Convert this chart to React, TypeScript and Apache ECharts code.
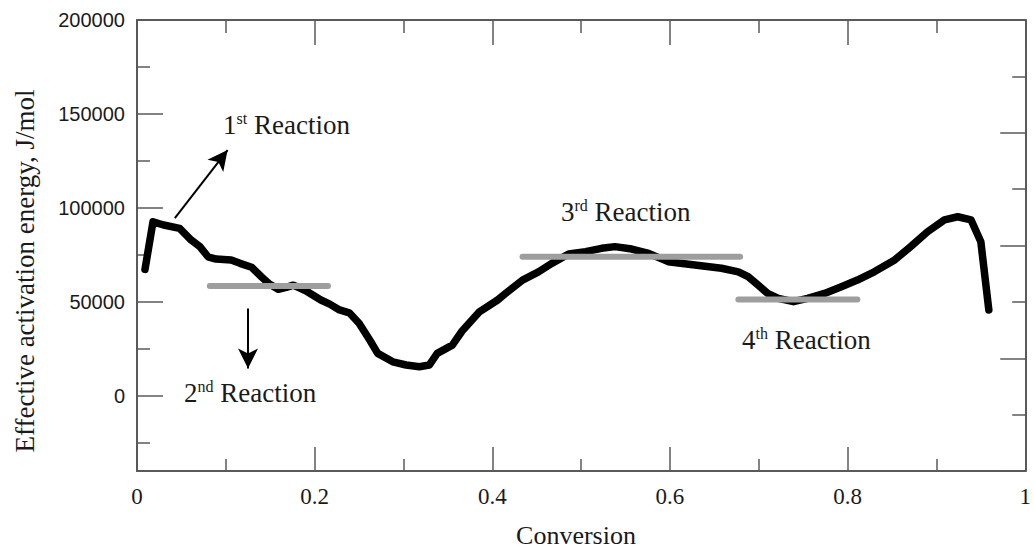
import React, { useEffect, useRef } from "react";
import * as echarts from "echarts";

// Main curve: conversion vs effective activation energy (J/mol)
const conversion = [
  0.009, 0.018, 0.030, 0.048, 0.061, 0.071, 0.080, 0.089, 0.106, 0.116,
  0.129, 0.140, 0.149, 0.159, 0.168, 0.176, 0.190, 0.207, 0.217, 0.228,
  0.239, 0.250, 0.262, 0.271, 0.288, 0.303, 0.318, 0.329, 0.338, 0.355,
  0.366, 0.385, 0.406, 0.415, 0.434, 0.452, 0.467, 0.486, 0.505, 0.523,
  0.538, 0.557, 0.576, 0.598, 0.628, 0.658, 0.677, 0.688, 0.699, 0.710,
  0.722, 0.739, 0.755, 0.774, 0.793, 0.811, 0.830, 0.853, 0.871, 0.890,
  0.909, 0.924, 0.939, 0.950, 0.959,
];
const energy = [
  67300, 92600, 90900, 89100, 82900, 79300, 74000, 72800, 72300, 70500,
  68400, 63400, 59500, 56700, 57700, 58900, 55900, 51000, 48800, 45700,
  44200, 38600, 29700, 22600, 18100, 16400, 15500, 16400, 22600, 27000,
  34500, 44500, 51000, 54500, 61600, 66000, 70500, 75500, 76700, 78500,
  79400, 78100, 75800, 71400, 69600, 67900, 66000, 63400, 59000, 54500,
  51900, 50100, 51900, 54500, 58100, 61600, 66000, 72300, 79400, 87300,
  93600, 95300, 93600, 82000, 45700,
];

// Reaction plateau levels (gray bars): [xStart, xEnd, level]
const reaction2 = [0.082, 0.215, 58500];
const reaction3 = [0.434, 0.679, 74000];
const reaction4 = [0.677, 0.811, 51300];

// Arrows: [xFrom, yFrom, xTo, yTo]
const arrow1 = [0.0426, 94600, 0.102, 130800];
const arrow2 = [0.125, 46500, 0.125, 14600];

// Axis ticks
const yMajorTicks = [0, 50000, 100000, 150000, 200000];
const yMinorTicks = [-25000, 25000, 75000, 125000, 175000];

const AXIS = "#5a5a5a";
const SERIF = "'Liberation Serif', 'Times New Roman', serif";
const SANS = "'Liberation Sans', Arial, sans-serif";

function reactionLabel(num: string, sup: string) {
  return {
    text: `{n|${num}}{s|${sup}}{n| Reaction}`,
    rich: {
      n: { fontSize: 27, fontFamily: SERIF, fill: "#1a1a1a", lineHeight: 30 },
      s: {
        fontSize: 16,
        fontFamily: SERIF,
        fill: "#1a1a1a",
        lineHeight: 30,
        verticalAlign: "top",
        padding: [0, 0, 8, 0],
      },
    },
  };
}

export default function App() {
  const ref = useRef<HTMLDivElement>(null);

  useEffect(() => {
    if (!ref.current) return;
    const chart = echarts.init(ref.current, null, { renderer: "svg" });

    const bar = (r: number[]) => ({
      type: "line",
      data: [
        [r[0], r[2]],
        [r[1], r[2]],
      ],
      showSymbol: false,
      symbol: "none",
      lineStyle: { color: "#9e9e9e", width: 6, cap: "round" },
      z: 5,
      silent: true,
    });

    const arrowLine = (a: number[]) => [
      { coord: [a[0], a[1]] },
      { coord: [a[2], a[3]] },
    ];

    const option: any = {
      animation: false,
      backgroundColor: "#ffffff",
      grid: { left: 137, top: 20, right: 7, bottom: 79, containLabel: false },
      xAxis: [
        {
          type: "value",
          min: 0,
          max: 1,
          interval: 0.2,
          position: "bottom",
          axisLine: { onZero: false, lineStyle: { color: AXIS, width: 2 } },
          axisTick: { inside: true, length: 24, lineStyle: { color: AXIS, width: 1.5 } },
          minorTick: { show: true, splitNumber: 2, length: 12, lineStyle: { color: AXIS, width: 1.5 } },
          splitLine: { show: false },
          minorSplitLine: { show: false },
          axisLabel: { fontFamily: SERIF, fontSize: 23, color: "#1a1a1a", margin: 14 },
        },
        {
          type: "value",
          min: 0,
          max: 1,
          interval: 0.2,
          position: "top",
          axisLine: { onZero: false, lineStyle: { color: AXIS, width: 2 } },
          axisTick: { inside: true, length: 25, lineStyle: { color: AXIS, width: 1.5 } },
          minorTick: { show: true, splitNumber: 2, length: 13, lineStyle: { color: AXIS, width: 1.5 } },
          splitLine: { show: false },
          minorSplitLine: { show: false },
          axisLabel: { show: false },
        },
      ],
      yAxis: [
        {
          type: "value",
          min: -40000,
          max: 200000,
          position: "left",
          axisLine: { onZero: false, lineStyle: { color: AXIS, width: 2 } },
          axisTick: {
            inside: true,
            length: 26,
            customValues: yMajorTicks,
            lineStyle: { color: AXIS, width: 1.5 },
          },
          splitLine: { show: false },
          axisLabel: {
            customValues: yMajorTicks,
            formatter: (v: number) => String(v),
            fontFamily: SANS,
            fontSize: 20,
            color: "#1a1a1a",
            margin: 12,
          },
        },
        {
          type: "value",
          min: -40000,
          max: 200000,
          position: "left",
          axisLine: { show: false, onZero: false },
          axisTick: {
            inside: true,
            length: 13,
            customValues: yMinorTicks,
            lineStyle: { color: AXIS, width: 1.5 },
          },
          splitLine: { show: false },
          axisLabel: { show: false },
        },
        {
          type: "value",
          min: 0,
          max: 8,
          interval: 2,
          position: "right",
          axisLine: { show: true, onZero: false, lineStyle: { color: AXIS, width: 2 } },
          axisTick: { show: true, inside: true, length: 25, lineStyle: { color: AXIS, width: 1.5 } },
          minorTick: { show: true, splitNumber: 2, length: 13, lineStyle: { color: AXIS, width: 1.5 } },
          splitLine: { show: false },
          minorSplitLine: { show: false },
          axisLabel: { show: false },
        },
      ],
      series: [
        {
          type: "line",
          data: conversion.map((c, i) => [c, energy[i]]),
          showSymbol: false,
          symbol: "none",
          lineStyle: { color: "#000000", width: 7.5, cap: "round", join: "round" },
          z: 3,
          silent: true,
          markLine: {
            silent: true,
            symbol: ["none", "arrow"],
            symbolSize: [15, 20],
            label: { show: false },
            lineStyle: { color: "#000000", width: 2, type: "solid" },
            data: [arrowLine(arrow1), arrowLine(arrow2)],
          },
        },
        bar(reaction2),
        bar(reaction3),
        bar(reaction4),
      ],
      graphic: [
        {
          type: "text",
          x: 576,
          y: 535,
          style: {
            text: "Conversion",
            fontFamily: SERIF,
            fontSize: 26,
            fill: "#1a1a1a",
            align: "center",
            verticalAlign: "middle",
          },
        },
        {
          type: "text",
          x: 25,
          y: 271,
          rotation: Math.PI / 2,
          style: {
            text: "Effective activation energy, J/mol",
            fontFamily: SERIF,
            fontSize: 27,
            fill: "#1a1a1a",
            align: "center",
            verticalAlign: "middle",
          },
        },
        {
          type: "text",
          x: 223,
          y: 125,
          style: { ...reactionLabel("1", "st"), align: "left", verticalAlign: "middle" },
        },
        {
          type: "text",
          x: 184,
          y: 393,
          style: { ...reactionLabel("2", "nd"), align: "left", verticalAlign: "middle" },
        },
        {
          type: "text",
          x: 561,
          y: 212,
          style: { ...reactionLabel("3", "rd"), align: "left", verticalAlign: "middle" },
        },
        {
          type: "text",
          x: 742,
          y: 340,
          style: { ...reactionLabel("4", "th"), align: "left", verticalAlign: "middle" },
        },
      ],
    };

    chart.setOption(option);
    return () => chart.dispose();
  }, []);

  return (
    <div
      ref={ref}
      style={{ position: "fixed", left: 0, top: 0, width: 1034, height: 550, background: "#fff" }}
    />
  );
}
